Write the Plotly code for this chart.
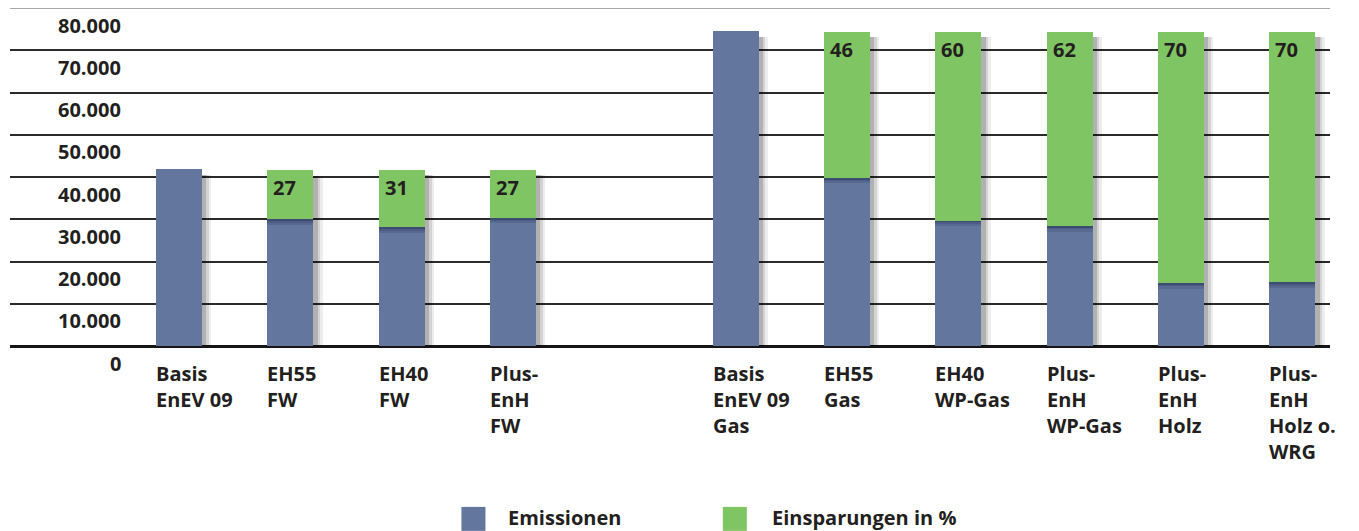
import plotly.graph_objects as go

# ---------------- data ----------------
categories = ["Basis<br>EnEV 09", "EH55<br>FW", "EH40<br>FW", "Plus-<br>EnH<br>FW",
              "Basis<br>EnEV 09<br>Gas", "EH55<br>Gas", "EH40<br>WP-Gas",
              "Plus-<br>EnH<br>WP-Gas", "Plus-<br>EnH<br>Holz", "Plus-<br>EnH<br>Holz o.<br>WRG"]
groups = ["FW", "FW", "FW", "FW", "Gas", "Gas", "Gas", "Gas", "Gas", "Gas"]
emissions = [41800, 30000, 28100, 30300, 74500, 39800, 29700, 28400, 14900, 15100]
savings = [0, 11600, 13600, 11400, 0, 34600, 44700, 46000, 59500, 59300]
savings_pct = [None, 27, 31, 27, None, 46, 60, 62, 70, 70]
y_ticks = [0, 10000, 20000, 30000, 40000, 50000, 60000, 70000, 80000]
y_tick_labels = ["0", "10.000", "20.000", "30.000", "40.000", "50.000", "60.000", "70.000", "80.000"]
legend_names = ["Emissionen", "Einsparungen in %"]

# ---------------- style ----------------
BLUE = "#62769e"
GREEN = "#80c563"
TXT = "#231f20"
FONT = "Open Sans"
BW = 0.413

# positions: one empty slot between the two groups
pos = [i + (1 if g == "Gas" else 0) for i, g in enumerate(groups)]
totals = [e + s for e, s in zip(emissions, savings)]

fig = go.Figure()

# drop shadows (soft, to the right / below)
for dx, extra, alpha in [(0.085, 1200, 0.07), (0.062, 950, 0.11), (0.04, 700, 0.16)]:
    fig.add_trace(go.Bar(
        x=pos, y=[t + extra - 1300 for t in totals], base=[-extra] * len(pos),
        width=BW, offset=-BW / 2 + dx,
        marker=dict(color=f"rgba(0,0,0,{alpha})", line=dict(width=0)),
        showlegend=False, hoverinfo="skip", cliponaxis=False))

fig.add_trace(go.Bar(
    x=pos, y=emissions, base=[0] * len(pos), width=BW, offset=-BW / 2,
    name=legend_names[0], marker=dict(color=BLUE, line=dict(width=0)),
    showlegend=False, cliponaxis=False))

# shadow of the green segment falling onto the blue one
sx = [p for p, s in zip(pos, savings) if s > 0]
se = [e for e, s in zip(emissions, savings) if s > 0]
for h, alpha in [(1300, 0.12), (800, 0.16), (400, 0.22)]:
    fig.add_trace(go.Bar(
        x=sx, y=[h] * len(sx), base=[e - h for e in se], width=BW, offset=-BW / 2,
        marker=dict(color=f"rgba(15,25,55,{alpha})", line=dict(width=0)),
        showlegend=False, hoverinfo="skip"))

fig.add_trace(go.Bar(
    x=sx, y=[s for s in savings if s > 0], base=se, width=BW, offset=-BW / 2,
    name=legend_names[1], marker=dict(color=GREEN, line=dict(width=0)),
    showlegend=False))

annotations = []
# percentage labels inside green bars
for p, t, pct in zip(pos, totals, savings_pct):
    if pct is None:
        continue
    annotations.append(dict(x=p - BW / 2, y=t, xref="x", yref="y", text=f"<b>{pct}</b>",
                            showarrow=False, xanchor="left", yanchor="top",
                            xshift=4, yshift=-2,
                            font=dict(family=FONT, size=20, color=TXT)))
# category labels
for p, c in zip(pos, categories):
    annotations.append(dict(x=p - BW / 2, y=0, xref="x", yref="y", text=f"<b>{c}</b>",
                            showarrow=False, xanchor="left", yanchor="top", align="left",
                            xshift=-2, yshift=-12,
                            font=dict(family=FONT, size=20, color=TXT)))
# y tick labels (sit between the grid lines)
for v, lab in zip(y_ticks, y_tick_labels):
    annotations.append(dict(x=0.0856, y=v, xref="paper", yref="y", text=f"<b>{lab}</b>",
                            showarrow=False, xanchor="right", yanchor="middle",
                            yshift=-17, font=dict(family=FONT, size=20, color=TXT)))
# legend
leg = [(BLUE, legend_names[0], 0.342, 0.376), (GREEN, legend_names[1], 0.540, 0.5758)]
shapes = []
for col, name, x0, tx in leg:
    shapes.append(dict(type="rect", xref="paper", yref="paper", x0=x0, x1=x0 + 0.0182,
                       y0=-0.547, y1=-0.476, fillcolor=col, line=dict(width=0)))
    annotations.append(dict(x=tx, y=-0.507, xref="paper", yref="paper", text=f"<b>{name}</b>",
                            showarrow=False, xanchor="left", yanchor="middle",
                            font=dict(family=FONT, size=20, color=TXT)))
# top border line
shapes.append(dict(type="line", xref="paper", yref="y", x0=0, x1=1, y0=80000, y1=80000,
                   line=dict(color="#8a8a8a", width=1.5), layer="below"))

fig.update_layout(
    width=1359, height=531,
    margin=dict(l=10, r=29, t=8, b=185),
    paper_bgcolor="white", plot_bgcolor="white",
    barmode="overlay", bargap=0,
    showlegend=False,
    xaxis=dict(range=[-1.518, 10.34], showticklabels=False, showgrid=False,
               zeroline=False, showline=False, ticks=""),
    yaxis=dict(range=[0, 80000], tickvals=y_ticks[1:-1], showticklabels=False,
               showgrid=True, gridcolor="#2b2b2b", gridwidth=1.5,
               zeroline=True, zerolinecolor="#151515", zerolinewidth=3,
               showline=False, ticks=""),
    annotations=annotations, shapes=shapes,
    font=dict(family=FONT, color=TXT),
)

fig.write_html("out.html")
